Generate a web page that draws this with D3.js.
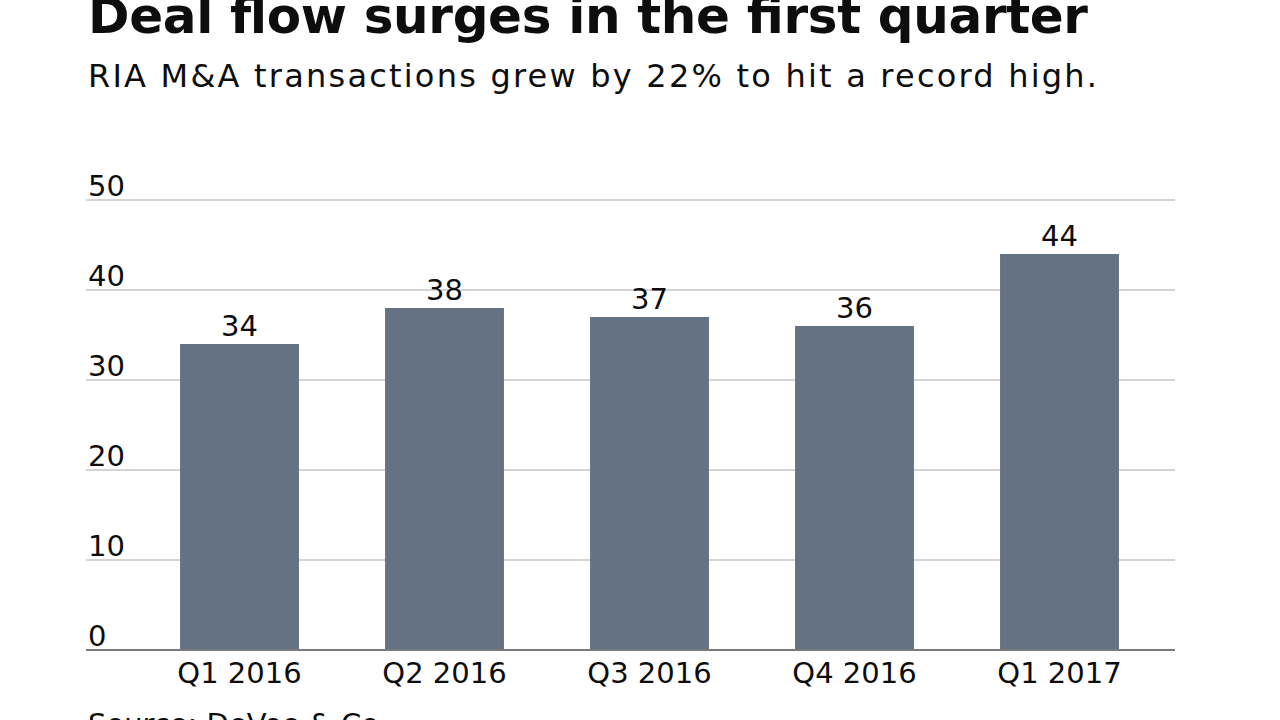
<!DOCTYPE html>
<html>
<head>
<meta charset="utf-8">
<script src="https://cdn.jsdelivr.net/npm/d3@7"></script>
<style>
  html, body { margin: 0; padding: 0; background: #fff; }
  svg { display: block; }
  text { font-family: "DejaVu Sans", sans-serif; fill: #0d0d0d; }
</style>
</head>
<body>
<script>
const categories = ["Q1 2016", "Q2 2016", "Q3 2016", "Q4 2016", "Q1 2017"];
const values = [34, 38, 37, 36, 44];
const yTicks = [0, 10, 20, 30, 40, 50];
const title = "Deal flow surges in the first quarter";
const subtitle = "RIA M&A transactions grew by 22% to hit a record high.";
const source = "Source: DeVoe & Co.";

const W = 1280, H = 720;
const svg = d3.select("body").append("svg").attr("width", W).attr("height", H);

const gridLeft = 86, gridRight = 1175;
const y = d3.scaleLinear().domain([0, 50]).range([650, 200]);
const x = d3.scaleBand().domain(categories).range([137, 1162]).paddingInner(0.42).paddingOuter(0.21);

// gridlines
svg.append("g").selectAll("line").data(yTicks.filter(d => d > 0)).join("line")
  .attr("x1", gridLeft).attr("x2", gridRight)
  .attr("y1", d => y(d)).attr("y2", d => y(d))
  .attr("stroke", "#aaaaaa").attr("stroke-width", 1.2);

// y tick labels
svg.append("g").selectAll("text").data(yTicks).join("text")
  .attr("x", 88).attr("y", d => y(d) - 4)
  .attr("font-size", 29)
  .text(d => d);

// bars
svg.append("g").selectAll("rect").data(values).join("rect")
  .attr("x", (d, i) => x(categories[i]))
  .attr("width", x.bandwidth())
  .attr("y", d => y(d))
  .attr("height", d => y(0) - y(d))
  .attr("fill", "#647283");

// baseline
svg.append("line")
  .attr("x1", gridLeft).attr("x2", gridRight)
  .attr("y1", y(0)).attr("y2", y(0))
  .attr("stroke", "#7a7a7a").attr("stroke-width", 2);

// value labels
svg.append("g").selectAll("text").data(values).join("text")
  .attr("x", (d, i) => x(categories[i]) + x.bandwidth() / 2)
  .attr("y", d => y(d) - 8)
  .attr("text-anchor", "middle")
  .attr("font-size", 29)
  .text(d => d);

// x axis labels
svg.append("g").selectAll("text").data(categories).join("text")
  .attr("x", d => x(d) + x.bandwidth() / 2)
  .attr("y", 683)
  .attr("text-anchor", "middle")
  .attr("font-size", 29)
  .text(d => d);

// title & subtitle
function fitText(sel, target) {
  sel.attr("textLength", target).attr("lengthAdjust", "spacing");
}
const t = svg.append("text").attr("x", 88).attr("y", 33)
  .attr("font-size", 50).attr("font-weight", "bold").text(title);
fitText(t, 1000);
const st = svg.append("text").attr("x", 88).attr("y", 87)
  .attr("font-size", 32).text(subtitle);
fitText(st, 1009);

svg.append("text").attr("x", 88).attr("y", 734)
  .attr("font-size", 29).text(source);
</script>
</body>
</html>
